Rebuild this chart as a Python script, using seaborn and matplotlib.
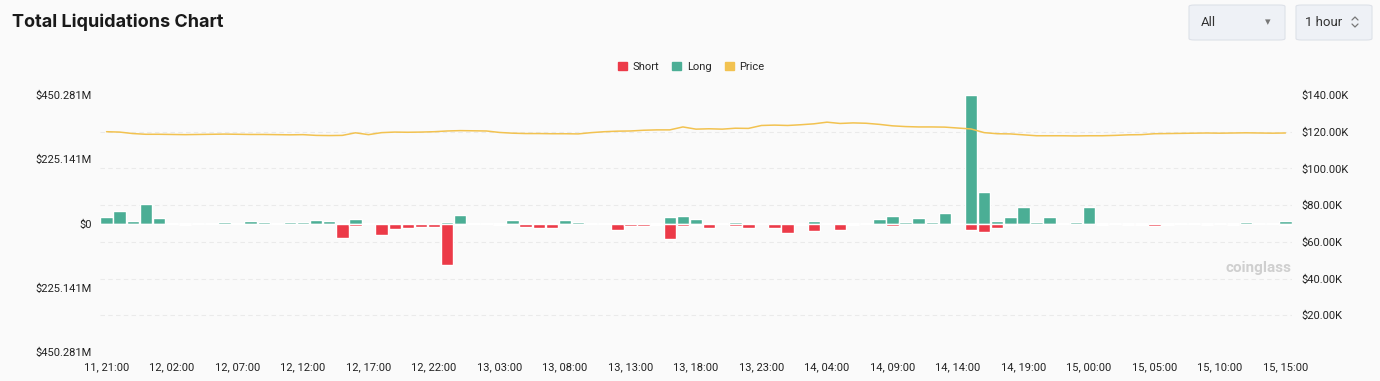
import numpy as np
import pandas as pd
import matplotlib
matplotlib.use('Agg')
import matplotlib.pyplot as plt
import seaborn as sns
from matplotlib.patches import Patch, FancyBboxPatch
from matplotlib.lines import Line2D

sns.set_theme(style='white')
plt.rcParams['font.family'] = ['Roboto', 'DejaVu Sans']

# hourly buckets, 11 21:00 -> 15 15:00
hours = pd.date_range('2025-07-11 21:00', periods=91, freq='h')
hour_labels = [h.strftime('%d, %H:%M') for h in hours]

# long liquidations, $M
long_m = [23, 43, 9, 68, 20, 2, 2, 2, 1.5, 4, 3, 8, 6, 3, 4, 5, 13, 9, 3, 17,
          3, 3, 3, 3, 2, 3, 6, 30, 3, 2, 2, 12, 3, 2, 2, 12, 4, 2, 2, 2,
          2, 2, 3, 23, 26, 16, 3, 2, 6, 2, 3, 3, 2, 3, 8, 3, 2, 2, 3, 16,
          26, 7, 20, 4, 37, 2, 450, 110, 8, 23, 57, 7, 22, 3, 7, 59, 2, 2, 2, 2,
          2, 2, 2, 3, 2, 2, 2, 7, 2, 2, 10]
# short liquidations, $M
short_m = [2, 2, 2, 2, 2, 2, 6, 2, 3, 2, 2, 3, 3, 3, 3, 3, 2, 2, 52, 10,
           3, 42, 20, 16, 11, 11, 144, 5, 2, 2, 4, 3, 12, 15, 15, 3, 2, 3, 3, 22,
           10, 10, 4, 55, 8, 5, 15, 2, 9, 17, 3, 15, 33, 7, 28, 3, 22, 5, 3, 2,
           10, 2, 2, 2, 2, 2, 22, 29, 17, 6, 3, 3, 3, 3, 2, 3, 6, 3, 4, 7,
           10, 4, 2, 2, 7, 2, 4, 2, 3, 2, 5]
# BTC price, $K
price_k = [120.0, 119.8, 119.0, 118.6, 118.6, 118.5, 118.4, 118.5, 118.6, 118.7,
           118.6, 118.5, 118.5, 118.4, 118.3, 118.4, 118.0, 117.9, 118.0, 119.4,
           118.4, 119.5, 119.8, 119.7, 119.8, 120.0, 120.4, 120.6, 120.5, 120.4,
           119.6, 119.2, 119.0, 119.0, 118.9, 118.9, 118.8, 119.5, 120.0, 120.3,
           120.4, 120.8, 121.0, 121.0, 122.6, 121.4, 121.6, 121.4, 121.9, 121.8,
           123.4, 123.6, 123.4, 123.8, 124.3, 125.2, 124.5, 124.8, 124.6, 124.0,
           123.2, 122.8, 122.6, 122.6, 122.5, 122.0, 121.5, 119.5, 118.9, 118.8,
           118.3, 117.8, 117.8, 117.8, 117.7, 117.8, 117.8, 118.0, 118.3, 118.4,
           118.9, 119.0, 119.1, 119.2, 119.3, 119.2, 119.3, 119.4, 119.3, 119.2,
           119.3]

left_ticks = [450.281, 225.141, 0, -225.141, -450.281]
left_labels = ['$450.281M', '$225.141M', '$0', '$225.141M', '$450.281M']
right_ticks = [20, 40, 60, 80, 100, 120, 140]
right_labels = ['$%.2fK' % v for v in right_ticks]

df = pd.DataFrame({'hour': hour_labels, 'long': long_m,
                   'short': [-s for s in short_m], 'price': price_k})

RED = '#EC3A48'
GREEN = '#4BAE95'
GOLD = '#F2C250'
BG = '#FAFAFA'

fig = plt.figure(figsize=(13.8, 3.81), dpi=100, facecolor=BG)
ax = fig.add_axes([100 / 1380, 29 / 381, 1192 / 1380, 257 / 381])
ax.set_facecolor(BG)

sns.barplot(data=df, x='hour', y='long', order=hour_labels, color=GREEN,
            saturation=1, width=0.95, errorbar=None, ax=ax, zorder=2)
sns.barplot(data=df, x='hour', y='short', order=hour_labels, color=RED,
            saturation=1, width=0.95, errorbar=None, ax=ax, zorder=2)

ax.set_ylim(-450.281, 450.281)
ax.set_xlim(-0.5, 90.5)
ax.set_yticks(left_ticks)
ax.set_yticklabels(left_labels)
# grid follows the price axis ticks
ax.set_yticks(np.linspace(-450.281, 450.281, 8), minor=True)
ax.grid(which='minor', axis='y', color='#EAEAEA', linestyle=(0, (4, 3)), linewidth=0.8)
ax.set_axisbelow(True)
ax.set_xticks(range(0, 91, 5))
ax.set_xticklabels(hour_labels[::5])
ax.set_xlabel('')
ax.set_ylabel('')
ax.tick_params(axis='both', which='both', length=0, labelsize=8, colors='#222222')
ax.tick_params(axis='y', pad=6)
ax.tick_params(axis='x', pad=7)
for s in ax.spines.values():
    s.set_visible(False)

ax2 = ax.twinx()
sns.lineplot(x=np.arange(len(price_k)), y=price_k, color=GOLD, linewidth=1.1, ax=ax2)
ax2.set_ylim(0, 140)
ax2.set_yticks(right_ticks)
ax2.set_yticklabels(right_labels)
ax2.tick_params(axis='y', length=0, labelsize=8, colors='#222222', pad=7)
ax2.set_ylabel('')
for s in ax2.spines.values():
    s.set_visible(False)

fig.text(12 / 1380, 1 - 22 / 381, 'Total Liquidations Chart', fontsize=13,
         fontweight='bold', color='#1A1A1A', va='center', family=['Inter', 'DejaVu Sans'])

handles = [Patch(color=RED, label='Short'), Patch(color=GREEN, label='Long'),
           Patch(color=GOLD, label='Price')]
fig.legend(handles=handles, loc='center', bbox_to_anchor=(691 / 1380, 1 - 67 / 381),
           ncol=3, frameon=False, fontsize=8, handlelength=0.8, handleheight=0.8,
           handletextpad=0.5, columnspacing=1.2)

# dropdown controls
for x0, w in [(1189, 96), (1296, 76)]:
    box = FancyBboxPatch((x0 / 1380, 1 - 40 / 381), w / 1380, 35 / 381,
                         boxstyle='round,pad=0,rounding_size=0.004',
                         transform=fig.transFigure, facecolor='#EEF1F6',
                         edgecolor='#DDE1E8', linewidth=0.8)
    fig.patches.append(box)
fig.text(1201 / 1380, 1 - 22 / 381, 'All', fontsize=9.5, color='#333333', va='center')
fig.text(1268 / 1380, 1 - 22 / 381, '▾', fontsize=8, color='#777777', va='center', ha='center',
         family=['DejaVu Sans'])
fig.text(1305 / 1380, 1 - 22 / 381, '1 hour', fontsize=9.5, color='#333333', va='center')
for d in (-1, 1):
    ys = [1 - (22 + 2 * d) / 381, 1 - (22 + 5 * d) / 381, 1 - (22 + 2 * d) / 381]
    fig.add_artist(Line2D([1352 / 1380, 1355 / 1380, 1358 / 1380], ys,
                          transform=fig.transFigure, color='#777777', linewidth=0.9))

fig.text(1292 / 1380, 1 - 268 / 381, 'coinglass', fontsize=11, fontweight='bold',
         color='#CFCFCF', va='center', ha='right')

fig.savefig('out.png', dpi=100, facecolor=BG)
